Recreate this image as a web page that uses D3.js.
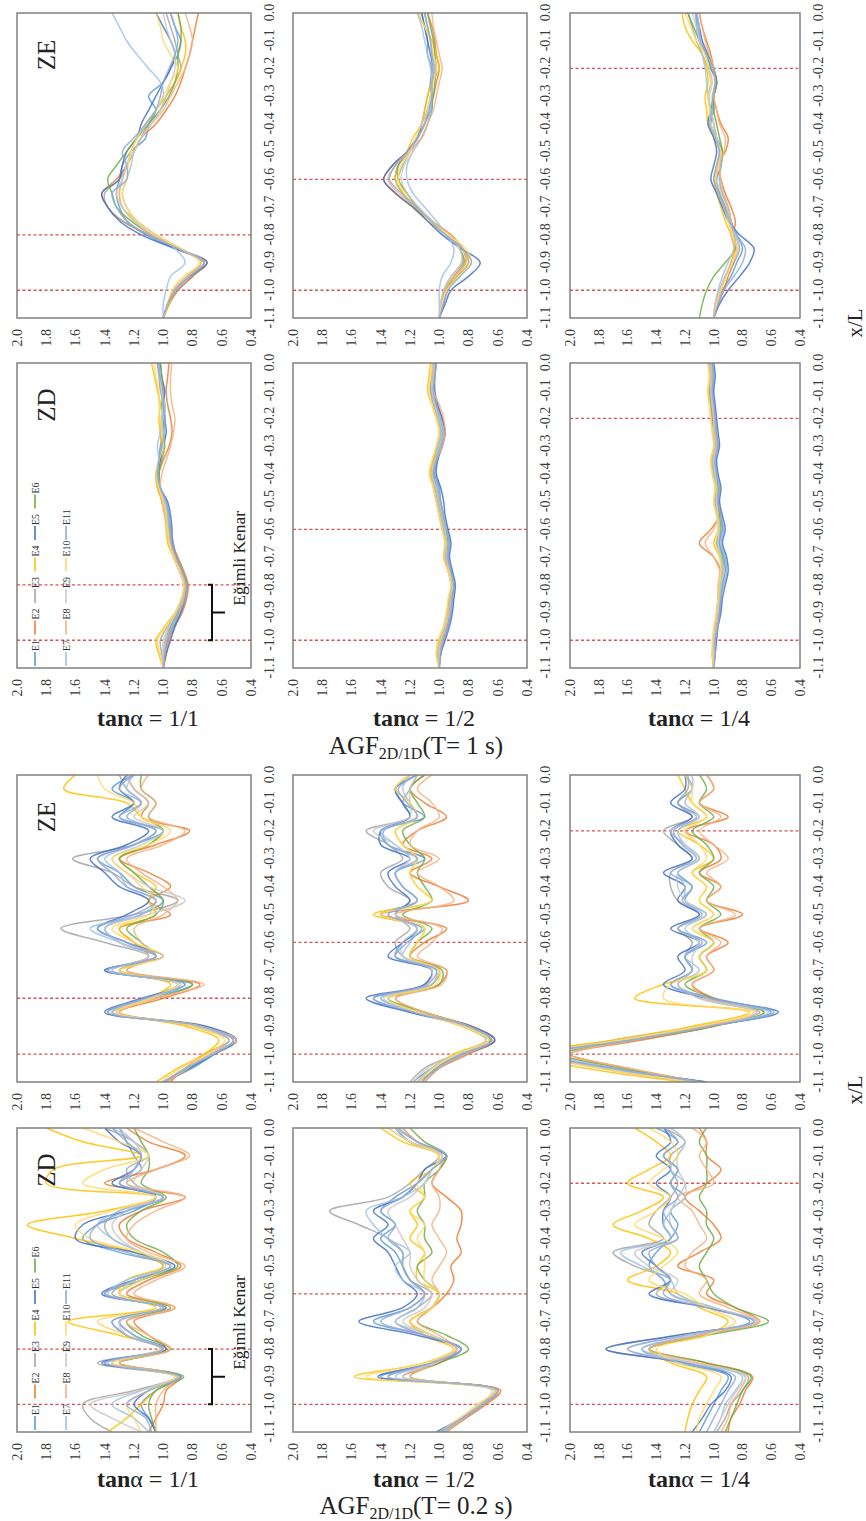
<!DOCTYPE html>
<html><head><meta charset="utf-8">
<script src="https://cdn.jsdelivr.net/npm/d3@7"></script>
<style>body{margin:0;background:#fff}svg text{font-family:"Liberation Serif","Times New Roman",serif}</style>
</head><body>
<script>
// ---------- data ----------
const seriesNames = ["E1","E2","E3","E4","E5","E6","E7","E8","E9","E10","E11"];
const seriesColors = ["#5B9BD5","#ED7D31","#A5A5A5","#FFC000","#4472C4","#70AD47","#9DC3E6","#F4B183","#C9C9C9","#FFD966","#8FAADC"];
const xPos = [-1.1,-1.05,-1.0,-0.95,-0.9,-0.85,-0.8,-0.75,-0.7,-0.65,-0.6,-0.55,-0.5,-0.45,-0.4,-0.35,-0.3,-0.25,-0.2,-0.15,-0.1,-0.05,0.0];
const xTicks = [-1.1,-1.0,-0.9,-0.8,-0.7,-0.6,-0.5,-0.4,-0.3,-0.2,-0.1,0.0];
const yTicks = [2.0,1.8,1.6,1.4,1.2,1.0,0.8,0.6,0.4];
const slopeLabels = ["1/1","1/2","1/4"];
const slopeEdges = [-0.8,-0.6,-0.2];
const toeEdge = -1.0;
const zoneNames = ["ZD","ZE"];
const periodLabels = ["0.2 s","1 s"];

// T = 0.2 s
const T02_ZD_11 = [
[1.05,1.10,1.15,1.05,0.88,1.40,1.00,1.25,1.35,1.00,1.40,1.15,0.95,1.30,1.55,1.45,1.20,1.05,1.30,1.15,1.20,1.25,1.30],
[1.10,1.05,1.00,0.98,0.88,1.30,0.98,1.10,1.20,0.92,1.25,1.10,0.88,1.05,1.25,1.30,1.15,0.85,1.40,1.05,0.85,1.10,1.25],
[1.35,1.50,1.55,1.20,0.90,1.45,1.02,1.20,1.30,1.00,1.35,1.20,1.00,1.15,1.35,1.40,1.30,1.05,1.20,1.25,1.10,1.20,1.40],
[1.38,1.25,1.15,1.05,0.90,1.35,1.00,1.30,1.65,1.05,1.30,1.25,1.00,1.20,1.60,1.93,1.40,1.05,1.80,1.75,1.15,1.55,1.80],
[1.05,1.10,1.20,1.10,0.88,1.42,0.98,1.20,1.30,0.98,1.42,1.20,0.92,1.20,1.60,1.55,1.25,1.00,1.35,1.20,1.15,1.30,1.40],
[1.05,1.08,1.10,1.05,0.86,1.30,0.95,1.15,1.25,0.95,1.30,1.15,0.90,1.00,1.20,1.25,1.15,0.98,1.15,1.10,1.10,1.15,1.20],
[1.10,1.20,1.35,1.15,0.90,1.38,1.00,1.20,1.30,1.00,1.38,1.25,0.95,1.15,1.35,1.45,1.30,1.00,1.25,1.20,1.15,1.20,1.35],
[1.05,1.05,1.05,1.00,0.90,1.30,0.95,1.10,1.25,0.92,1.20,1.05,0.85,1.10,1.25,1.20,1.05,0.85,1.25,1.05,0.82,1.00,1.20],
[1.15,1.35,1.50,1.15,0.92,1.35,1.00,1.25,1.30,1.02,1.30,1.20,0.98,1.15,1.30,1.35,1.25,1.00,1.20,1.15,1.10,1.20,1.30],
[1.15,1.20,1.25,1.10,0.92,1.35,1.02,1.25,1.45,1.00,1.30,1.15,0.95,1.15,1.50,1.60,1.35,1.05,1.55,1.40,1.10,1.30,1.55],
[1.08,1.12,1.25,1.10,0.88,1.40,1.00,1.25,1.35,1.00,1.40,1.20,0.95,1.25,1.50,1.45,1.25,1.00,1.30,1.20,1.15,1.25,1.35]];
const T02_ZE_11 = [
[1.00,0.80,0.65,0.50,0.72,1.38,1.10,0.80,1.40,1.05,1.30,1.40,1.15,1.00,1.20,1.30,1.45,1.20,1.00,1.30,1.20,1.35,1.20],
[0.95,0.85,0.72,0.55,0.80,1.30,1.00,0.75,1.25,1.10,1.20,1.30,0.95,1.10,0.95,1.10,1.30,1.05,0.82,1.15,1.10,1.20,1.25],
[0.98,0.82,0.65,0.50,0.70,1.35,1.12,0.90,1.35,1.10,1.40,1.70,1.20,0.90,1.20,1.35,1.62,1.20,1.05,1.25,1.15,1.25,1.30],
[1.05,0.90,0.72,0.62,0.85,1.30,1.10,0.95,1.30,1.05,1.20,1.30,1.05,1.10,1.05,1.20,1.30,1.10,1.00,1.15,1.25,1.68,1.60],
[1.00,0.82,0.65,0.50,0.72,1.40,1.15,0.85,1.40,1.00,1.25,1.45,1.25,1.10,1.30,1.40,1.50,1.25,1.10,1.35,1.20,1.30,1.25],
[0.98,0.84,0.66,0.52,0.74,1.35,1.05,0.80,1.30,1.05,1.15,1.25,1.05,1.00,1.10,1.20,1.30,1.10,1.00,1.10,1.05,1.15,1.15],
[1.00,0.85,0.68,0.55,0.78,1.32,1.10,0.88,1.38,1.05,1.30,1.50,1.15,1.05,1.25,1.30,1.40,1.20,1.05,1.25,1.15,1.25,1.20],
[0.98,0.83,0.70,0.50,0.75,1.30,1.05,0.72,1.25,1.05,1.15,1.20,1.00,0.90,1.00,1.15,1.25,1.00,0.85,1.10,1.05,1.15,1.10],
[1.00,0.85,0.66,0.52,0.75,1.35,1.10,0.90,1.35,1.10,1.30,1.40,1.10,0.85,1.10,1.25,1.35,1.15,1.00,1.20,1.10,1.20,1.25],
[1.02,0.88,0.70,0.58,0.80,1.32,1.08,0.90,1.30,1.00,1.20,1.35,1.10,1.05,1.15,1.25,1.35,1.10,0.95,1.15,1.20,1.40,1.45],
[1.00,0.84,0.66,0.52,0.74,1.38,1.12,0.85,1.38,1.05,1.25,1.45,1.20,1.05,1.25,1.35,1.45,1.20,1.05,1.30,1.15,1.30,1.20]];
const T02_ZD_12 = [
[0.98,0.82,0.70,0.60,1.40,1.00,0.85,1.10,1.45,1.20,1.10,1.20,1.25,1.30,1.40,1.30,1.40,1.30,1.15,1.05,0.95,1.15,1.30],
[0.95,0.82,0.68,0.58,1.25,1.00,0.88,1.05,1.20,1.05,0.95,0.90,0.92,0.85,0.88,0.85,0.85,0.95,1.05,1.00,0.95,1.15,1.25],
[1.00,0.85,0.72,0.62,1.35,1.05,0.85,1.10,1.30,1.15,1.05,1.20,1.25,1.25,1.35,1.55,1.75,1.35,1.20,1.10,1.00,1.20,1.35],
[1.00,0.85,0.72,0.60,1.58,1.10,0.90,1.10,1.20,1.05,1.00,1.15,1.15,1.10,1.20,1.15,1.20,1.10,1.20,1.05,1.00,1.25,1.40],
[1.02,0.85,0.70,0.60,1.42,1.05,0.85,1.15,1.55,1.25,1.15,1.25,1.30,1.35,1.45,1.35,1.45,1.25,1.15,1.10,0.95,1.20,1.30],
[1.00,0.84,0.72,0.62,1.20,1.00,0.80,0.95,1.15,1.05,1.00,1.10,1.15,1.05,1.10,1.10,1.15,1.10,1.10,1.00,0.95,1.10,1.20],
[0.98,0.84,0.70,0.62,1.30,1.05,0.88,1.05,1.30,1.15,1.10,1.25,1.30,1.20,1.35,1.45,1.50,1.25,1.10,1.05,0.98,1.20,1.30],
[0.96,0.83,0.70,0.60,1.20,1.02,0.88,1.00,1.15,1.05,1.00,1.05,1.00,0.95,1.00,1.05,1.00,1.00,1.05,1.00,0.98,1.15,1.25],
[1.00,0.86,0.72,0.64,1.25,1.05,0.90,1.05,1.25,1.10,1.05,1.15,1.20,1.20,1.25,1.30,1.35,1.20,1.10,1.05,0.98,1.15,1.30],
[1.00,0.86,0.74,0.62,1.50,1.10,0.90,1.05,1.20,1.05,1.00,1.10,1.10,1.10,1.15,1.10,1.20,1.10,1.15,1.05,1.00,1.20,1.35],
[1.00,0.84,0.70,0.60,1.35,1.05,0.85,1.10,1.40,1.20,1.10,1.20,1.25,1.25,1.35,1.30,1.40,1.25,1.15,1.05,0.95,1.15,1.28]];
const T02_ZE_12 = [
[1.18,1.05,0.85,0.65,0.82,1.20,1.45,1.05,1.00,1.30,1.25,1.10,1.40,1.15,1.25,1.30,1.10,1.35,1.40,1.10,1.25,1.30,1.20],
[1.15,1.00,0.80,0.62,0.78,1.10,1.30,1.00,0.95,1.20,1.10,0.95,1.40,0.80,1.00,1.20,1.05,1.25,1.15,0.95,1.10,1.20,1.10],
[1.20,1.10,0.88,0.68,0.82,1.15,1.40,1.10,1.05,1.25,1.30,1.20,1.30,1.20,1.35,1.40,1.25,1.35,1.50,1.20,1.25,1.20,1.15],
[1.15,1.05,0.90,0.68,0.85,1.15,1.35,1.05,1.00,1.20,1.15,1.10,1.45,1.05,1.15,1.20,1.15,1.25,1.30,1.15,1.20,1.30,1.20],
[1.10,1.00,0.82,0.62,0.78,1.20,1.50,1.10,1.05,1.35,1.25,1.15,1.30,1.20,1.30,1.35,1.20,1.40,1.40,1.20,1.25,1.30,1.15],
[1.12,1.02,0.85,0.65,0.80,1.10,1.35,1.00,0.98,1.20,1.15,1.05,1.25,1.05,1.10,1.15,1.10,1.20,1.25,1.10,1.15,1.20,1.10],
[1.15,1.05,0.86,0.66,0.82,1.15,1.40,1.05,1.02,1.25,1.20,1.15,1.35,1.15,1.25,1.30,1.20,1.30,1.40,1.15,1.20,1.25,1.20],
[1.10,1.00,0.82,0.64,0.80,1.10,1.30,0.98,0.95,1.15,1.05,0.98,1.30,0.90,1.00,1.15,1.00,1.20,1.15,1.00,1.05,1.15,1.05],
[1.18,1.08,0.88,0.68,0.84,1.15,1.38,1.08,1.05,1.25,1.25,1.15,1.30,1.15,1.25,1.30,1.20,1.30,1.45,1.20,1.20,1.20,1.15],
[1.14,1.04,0.88,0.66,0.84,1.15,1.35,1.02,1.00,1.20,1.15,1.10,1.40,1.05,1.15,1.20,1.15,1.25,1.30,1.15,1.20,1.30,1.20],
[1.12,1.02,0.84,0.64,0.80,1.18,1.45,1.08,1.02,1.30,1.22,1.12,1.35,1.15,1.25,1.30,1.15,1.35,1.38,1.15,1.22,1.28,1.15]];
const T02_ZD_14 = [
[1.10,1.05,1.00,0.95,0.90,1.25,1.50,1.10,0.75,1.00,1.30,1.35,1.45,1.40,1.30,1.25,1.30,1.20,1.30,1.25,1.35,1.25,1.40],
[0.90,0.88,0.82,0.78,0.73,1.05,1.45,1.10,0.68,0.85,1.05,1.00,1.25,1.10,0.95,1.00,1.10,1.20,1.05,0.95,1.05,1.05,1.10],
[0.98,0.92,0.88,0.80,0.76,1.15,1.75,1.25,0.72,1.05,1.40,1.30,1.55,1.70,1.35,1.45,1.40,1.30,1.25,1.30,1.30,1.20,1.35],
[1.20,1.18,1.15,1.10,1.05,1.30,1.45,1.05,0.90,1.10,1.25,1.60,1.40,1.30,1.45,1.70,1.50,1.35,1.60,1.45,1.30,1.40,1.55],
[1.15,1.08,1.02,0.92,0.88,1.20,1.75,1.25,0.70,1.05,1.45,1.30,1.40,1.50,1.30,1.35,1.35,1.30,1.40,1.30,1.40,1.30,1.35],
[0.92,0.88,0.84,0.80,0.74,1.05,1.45,1.05,0.62,0.85,1.00,1.05,1.10,1.05,1.00,1.05,1.05,1.10,1.05,1.05,1.05,1.10,1.05],
[1.00,0.95,0.92,0.85,0.80,1.15,1.50,1.15,0.70,1.00,1.25,1.30,1.50,1.65,1.30,1.35,1.30,1.25,1.20,1.30,1.25,1.20,1.30],
[0.95,0.90,0.88,0.82,0.78,1.10,1.45,1.10,0.68,0.90,1.10,1.05,1.20,1.15,1.05,1.10,1.15,1.25,1.00,1.05,1.10,1.05,1.15],
[1.00,0.95,0.90,0.84,0.78,1.15,1.60,1.20,0.70,1.00,1.30,1.25,1.45,1.55,1.25,1.30,1.30,1.20,1.20,1.25,1.25,1.20,1.30],
[1.12,1.10,1.05,1.00,0.95,1.25,1.40,1.05,0.85,1.05,1.20,1.45,1.35,1.25,1.35,1.55,1.40,1.30,1.45,1.35,1.25,1.30,1.45],
[1.05,1.00,0.95,0.90,0.85,1.20,1.60,1.20,0.72,1.05,1.35,1.30,1.40,1.45,1.25,1.30,1.35,1.25,1.30,1.25,1.35,1.25,1.35]];
const T02_ZE_14 = [
[1.05,1.75,2.20,1.55,1.00,0.60,1.00,1.30,1.15,1.20,1.05,1.25,1.05,1.20,1.15,1.25,1.10,1.20,1.30,1.10,1.25,1.15,1.20],
[1.10,1.60,2.00,1.50,1.00,0.65,1.00,1.15,1.00,1.05,0.90,1.10,0.80,1.05,0.95,1.10,0.95,1.00,1.20,0.90,1.10,1.00,1.05],
[1.15,1.80,2.20,1.70,1.10,0.68,1.10,1.25,1.15,1.20,1.15,1.25,1.10,1.25,1.30,1.30,1.15,1.25,1.35,1.15,1.25,1.15,1.20],
[1.20,1.90,2.30,1.70,1.15,0.75,1.55,1.35,1.05,1.10,1.00,1.15,1.00,1.10,1.05,1.15,1.00,1.10,1.25,1.05,1.15,1.20,1.25],
[1.05,1.70,2.20,1.60,1.05,0.55,1.05,1.35,1.20,1.25,1.10,1.30,1.10,1.25,1.20,1.35,1.15,1.25,1.30,1.15,1.30,1.20,1.20],
[1.10,1.65,2.05,1.55,1.00,0.65,1.00,1.20,1.05,1.10,1.00,1.10,0.95,1.05,1.00,1.10,1.00,1.05,1.15,1.00,1.10,1.05,1.10],
[1.10,1.70,2.10,1.60,1.05,0.62,1.05,1.25,1.10,1.20,1.10,1.20,1.05,1.20,1.20,1.25,1.10,1.20,1.25,1.10,1.20,1.15,1.15],
[1.10,1.60,2.00,1.55,1.05,0.70,1.05,1.15,1.00,1.05,0.95,1.10,0.85,1.05,0.95,1.05,0.90,1.00,1.10,0.95,1.10,1.00,1.05],
[1.15,1.75,2.15,1.65,1.10,0.70,1.10,1.25,1.15,1.15,1.10,1.25,1.05,1.20,1.25,1.25,1.10,1.20,1.30,1.10,1.20,1.15,1.15],
[1.15,1.80,2.20,1.65,1.10,0.72,1.35,1.30,1.05,1.10,1.00,1.15,1.00,1.10,1.05,1.15,1.05,1.10,1.20,1.05,1.15,1.15,1.20],
[1.08,1.72,2.15,1.58,1.02,0.58,1.02,1.30,1.15,1.20,1.08,1.25,1.08,1.22,1.15,1.30,1.12,1.22,1.28,1.12,1.25,1.18,1.18]];

// T = 1 s
const T1_ZD_11 = [
[1.00,0.99,0.97,0.93,0.88,0.85,0.84,0.87,0.91,0.93,0.95,0.96,0.98,1.02,1.04,1.03,1.02,1.00,0.99,0.99,1.00,1.02,1.04],
[1.00,0.98,0.96,0.92,0.87,0.84,0.83,0.86,0.90,0.94,0.96,0.98,1.00,1.03,1.03,1.00,0.96,0.94,0.95,0.97,0.98,0.97,0.96],
[1.00,1.01,1.02,0.97,0.91,0.87,0.85,0.89,0.93,0.96,0.97,0.98,1.00,1.04,1.05,1.03,1.01,1.02,1.01,1.00,1.02,1.03,1.04],
[1.00,1.03,1.05,0.99,0.92,0.87,0.86,0.89,0.93,0.97,0.98,0.99,1.01,1.04,1.05,1.02,1.01,1.02,1.03,1.02,1.04,1.06,1.08],
[1.00,0.98,0.95,0.92,0.88,0.85,0.84,0.87,0.91,0.94,0.94,0.95,0.97,1.02,1.03,1.02,1.00,0.98,0.99,1.00,0.99,1.01,1.02],
[1.00,0.99,0.98,0.95,0.90,0.86,0.84,0.87,0.91,0.95,0.96,0.97,0.99,1.02,1.03,1.01,0.99,1.00,1.00,1.01,1.00,1.01,1.02],
[1.00,1.00,0.99,0.96,0.91,0.87,0.86,0.89,0.92,0.95,0.96,0.97,0.99,1.02,1.04,1.03,1.04,1.02,1.00,0.99,1.01,1.02,1.03],
[1.00,0.99,0.98,0.94,0.89,0.86,0.85,0.88,0.92,0.95,0.97,0.99,1.01,1.02,1.01,0.98,0.95,0.93,0.92,0.94,0.95,0.95,0.94],
[1.00,1.00,1.00,0.96,0.91,0.87,0.86,0.89,0.93,0.96,0.97,0.98,0.99,1.03,1.04,1.03,1.00,1.00,1.01,1.00,1.01,1.02,1.03],
[1.00,1.02,1.04,0.98,0.92,0.88,0.86,0.89,0.93,0.96,0.97,0.98,1.00,1.03,1.05,1.03,1.00,1.01,1.02,1.03,1.03,1.05,1.06],
[1.00,0.99,0.97,0.94,0.89,0.85,0.84,0.87,0.91,0.94,0.95,0.96,0.98,1.02,1.04,1.03,1.01,0.99,0.99,1.00,1.00,1.02,1.03]];
const T1_ZE_11 = [
[1.00,0.96,0.90,0.80,0.72,0.92,1.12,1.25,1.30,1.32,1.30,1.28,1.22,1.12,1.10,1.05,1.10,1.00,0.95,0.90,0.88,0.92,0.95],
[1.00,0.96,0.90,0.80,0.70,0.90,1.10,1.28,1.38,1.42,1.32,1.25,1.20,1.15,1.05,0.98,0.92,0.88,0.85,0.82,0.80,0.78,0.76],
[1.00,0.97,0.92,0.82,0.72,0.90,1.10,1.28,1.38,1.40,1.30,1.25,1.20,1.15,1.10,1.02,0.98,0.92,0.88,0.90,0.92,0.95,0.98],
[1.00,0.96,0.92,0.84,0.74,0.88,1.05,1.18,1.28,1.30,1.28,1.25,1.22,1.18,1.12,1.05,0.98,0.92,0.88,0.85,0.85,0.88,0.90],
[1.00,0.97,0.92,0.82,0.70,0.92,1.15,1.30,1.38,1.42,1.30,1.28,1.25,1.18,1.15,1.10,1.05,1.00,0.95,0.92,0.95,1.00,1.05],
[1.00,0.97,0.93,0.83,0.72,0.90,1.08,1.22,1.32,1.35,1.38,1.32,1.25,1.18,1.10,1.02,0.96,0.92,0.90,0.90,0.88,0.88,0.90],
[1.00,1.00,0.98,0.95,0.85,0.92,1.05,1.18,1.25,1.28,1.25,1.22,1.20,1.15,1.12,1.05,1.00,1.02,1.10,1.18,1.25,1.30,1.35],
[1.00,0.97,0.93,0.84,0.74,0.90,1.08,1.20,1.28,1.30,1.28,1.25,1.20,1.15,1.08,1.00,0.95,0.90,0.85,0.82,0.80,0.82,0.85],
[1.00,0.97,0.92,0.83,0.72,0.88,1.05,1.20,1.28,1.32,1.28,1.25,1.20,1.15,1.08,1.02,0.98,0.95,0.92,0.92,0.95,0.98,1.00],
[1.00,0.97,0.94,0.86,0.75,0.88,1.05,1.18,1.25,1.28,1.25,1.24,1.22,1.18,1.12,1.05,1.00,0.95,0.90,0.95,1.00,1.02,1.05],
[1.00,0.97,0.92,0.82,0.72,0.90,1.10,1.25,1.32,1.35,1.25,1.25,1.28,1.20,1.12,1.05,1.02,1.00,0.96,0.92,0.90,0.92,0.95]];
const T1_ZD_12 = [
[1.00,1.00,0.97,0.94,0.92,0.91,0.90,0.92,0.94,0.93,0.95,0.97,0.99,1.00,1.03,1.02,1.00,0.98,1.00,1.02,1.04,1.04,1.03],
[1.00,0.99,0.97,0.95,0.93,0.92,0.91,0.93,0.96,0.95,0.97,0.99,1.01,1.03,1.04,1.02,0.98,0.96,0.98,1.02,1.06,1.05,1.04],
[1.00,1.01,0.99,0.96,0.94,0.93,0.91,0.92,0.95,0.95,0.97,0.98,1.00,1.02,1.06,1.04,1.01,0.99,1.01,1.04,1.06,1.05,1.04],
[1.00,1.02,1.00,0.97,0.95,0.93,0.92,0.94,0.97,0.96,0.98,1.00,1.02,1.04,1.06,1.04,1.02,1.00,1.02,1.05,1.08,1.07,1.06],
[1.00,0.99,0.96,0.93,0.91,0.90,0.89,0.91,0.93,0.92,0.94,0.96,0.97,0.99,1.02,1.01,0.98,0.96,0.98,1.01,1.03,1.03,1.02],
[1.00,1.00,0.98,0.95,0.93,0.92,0.90,0.92,0.95,0.94,0.96,0.98,1.00,1.02,1.04,1.03,1.00,0.98,1.00,1.03,1.05,1.04,1.03],
[1.00,1.01,0.99,0.96,0.94,0.93,0.91,0.93,0.96,0.95,0.97,0.99,1.01,1.03,1.05,1.03,1.01,0.99,1.01,1.03,1.05,1.04,1.03],
[1.00,1.00,0.98,0.95,0.94,0.93,0.92,0.94,0.97,0.96,0.98,1.00,1.02,1.04,1.05,1.02,0.98,0.96,0.97,1.00,1.04,1.04,1.03],
[1.00,1.00,0.99,0.96,0.93,0.92,0.91,0.93,0.95,0.95,0.96,0.98,1.00,1.02,1.05,1.03,1.00,0.98,1.00,1.03,1.05,1.05,1.04],
[1.00,1.02,1.01,0.97,0.95,0.94,0.92,0.94,0.97,0.96,0.98,1.00,1.02,1.04,1.07,1.05,1.02,1.00,1.02,1.05,1.07,1.06,1.05],
[1.00,0.99,0.97,0.94,0.92,0.91,0.90,0.92,0.94,0.93,0.95,0.97,0.99,1.01,1.04,1.02,0.99,0.97,0.99,1.02,1.04,1.03,1.02]];
const T1_ZE_12 = [
[1.00,0.97,0.95,0.88,0.80,0.84,0.95,1.05,1.15,1.25,1.30,1.28,1.20,1.12,1.08,1.05,1.05,1.06,1.05,1.08,1.08,1.10,1.12],
[1.00,0.98,0.96,0.90,0.82,0.84,0.92,1.05,1.18,1.30,1.38,1.32,1.22,1.15,1.10,1.08,1.04,1.02,1.00,1.02,1.03,1.05,1.08],
[1.00,0.99,0.97,0.92,0.84,0.86,0.95,1.05,1.15,1.22,1.28,1.25,1.20,1.15,1.12,1.10,1.08,1.06,1.05,1.05,1.06,1.08,1.10],
[1.00,0.98,0.95,0.88,0.80,0.84,0.95,1.08,1.18,1.25,1.30,1.28,1.22,1.18,1.12,1.10,1.08,1.05,1.00,1.02,1.05,1.10,1.15],
[1.00,0.96,0.92,0.80,0.72,0.85,0.98,1.08,1.18,1.30,1.38,1.32,1.22,1.15,1.12,1.08,1.06,1.05,1.04,1.06,1.08,1.10,1.12],
[1.00,0.98,0.96,0.90,0.83,0.86,0.95,1.05,1.15,1.22,1.28,1.28,1.22,1.15,1.10,1.06,1.04,1.03,1.02,1.03,1.04,1.06,1.08],
[1.00,1.00,1.00,0.98,0.92,0.90,0.95,1.02,1.10,1.18,1.22,1.22,1.18,1.12,1.08,1.06,1.05,1.05,1.06,1.08,1.10,1.12,1.15],
[1.00,0.98,0.96,0.90,0.82,0.84,0.94,1.05,1.16,1.28,1.35,1.30,1.20,1.12,1.08,1.04,1.02,1.00,0.98,1.00,1.02,1.04,1.05],
[1.00,0.99,0.97,0.92,0.85,0.86,0.95,1.05,1.14,1.22,1.26,1.24,1.18,1.14,1.10,1.08,1.06,1.05,1.04,1.05,1.06,1.08,1.10],
[1.00,0.98,0.95,0.86,0.78,0.82,0.94,1.06,1.16,1.24,1.28,1.26,1.20,1.16,1.12,1.08,1.06,1.04,1.02,1.04,1.06,1.10,1.14],
[1.00,0.97,0.94,0.86,0.78,0.84,0.96,1.06,1.16,1.26,1.34,1.30,1.22,1.15,1.10,1.07,1.05,1.05,1.03,1.05,1.06,1.08,1.10]];
const T1_ZD_14 = [
[1.00,1.00,0.99,0.98,0.96,0.95,0.94,0.92,0.93,0.96,0.94,0.95,0.97,0.96,0.98,0.99,0.97,0.98,0.99,1.00,1.01,1.00,1.01],
[1.00,1.00,0.99,0.98,0.97,0.96,0.96,0.95,1.00,1.10,1.02,0.96,0.98,0.98,1.00,1.01,0.99,1.00,1.01,1.02,1.03,1.02,1.03],
[1.00,1.01,1.00,0.99,0.98,0.97,0.96,0.94,0.95,0.98,0.96,0.97,0.99,0.98,1.00,1.01,0.99,1.00,1.01,1.02,1.03,1.02,1.03],
[1.00,1.01,1.00,0.99,0.98,0.97,0.96,0.94,0.96,1.00,0.97,0.98,1.00,0.99,1.01,1.02,1.00,1.01,1.02,1.03,1.04,1.03,1.04],
[1.00,0.99,0.98,0.97,0.95,0.94,0.92,0.90,0.91,0.94,0.92,0.94,0.96,0.95,0.97,0.98,0.96,0.97,0.98,0.99,1.00,0.99,1.00],
[1.00,1.00,0.99,0.98,0.97,0.96,0.95,0.93,0.94,0.97,0.95,0.96,0.98,0.97,0.99,1.00,0.98,0.99,1.00,1.01,1.02,1.01,1.02],
[1.00,1.00,1.00,0.99,0.98,0.97,0.96,0.94,0.95,0.97,0.96,0.97,0.99,0.98,1.00,1.01,0.99,1.00,1.00,1.01,1.02,1.02,1.03],
[1.00,1.00,0.99,0.98,0.97,0.97,0.97,0.96,1.00,1.06,1.00,0.97,0.98,0.98,0.99,1.00,0.98,0.99,1.00,1.01,1.02,1.01,1.02],
[1.00,1.00,1.00,0.99,0.97,0.96,0.95,0.93,0.95,0.97,0.96,0.97,0.98,0.98,0.99,1.00,0.99,1.00,1.00,1.01,1.02,1.02,1.02],
[1.00,1.01,1.01,1.00,0.98,0.97,0.96,0.95,0.96,0.99,0.97,0.98,1.00,0.99,1.01,1.02,1.00,1.01,1.02,1.03,1.04,1.03,1.04],
[1.00,0.99,0.99,0.97,0.96,0.95,0.93,0.91,0.92,0.95,0.93,0.95,0.97,0.96,0.98,0.99,0.97,0.98,0.99,1.00,1.01,1.00,1.01]];
const T1_ZE_14 = [
[1.00,0.98,0.94,0.88,0.84,0.80,0.84,0.88,0.92,0.96,0.98,0.95,0.94,0.98,1.02,1.00,1.00,0.98,1.02,1.05,1.10,1.12,1.12],
[1.00,0.97,0.93,0.90,0.86,0.84,0.86,0.85,0.88,0.92,0.95,0.98,0.92,0.90,0.95,0.98,1.00,0.98,1.00,1.02,1.05,1.08,1.10],
[1.00,0.99,0.96,0.92,0.86,0.82,0.85,0.90,0.92,0.96,0.99,0.98,0.96,0.98,1.00,1.02,1.04,1.02,1.04,1.08,1.12,1.15,1.18],
[1.00,0.98,0.95,0.92,0.88,0.85,0.88,0.92,0.95,0.98,1.00,0.98,0.96,1.00,1.04,1.05,1.06,1.04,1.05,1.08,1.15,1.20,1.22],
[1.00,0.96,0.90,0.82,0.75,0.72,0.82,0.90,0.94,0.98,1.02,1.00,0.98,1.00,1.04,1.02,1.00,0.98,1.00,1.04,1.08,1.10,1.12],
[1.10,1.08,1.05,1.00,0.92,0.85,0.86,0.88,0.90,0.94,0.96,0.95,0.94,0.96,0.98,1.00,1.00,0.98,1.02,1.05,1.10,1.14,1.18],
[1.00,0.99,0.97,0.94,0.90,0.86,0.86,0.88,0.90,0.94,0.96,0.95,0.96,0.98,1.00,1.02,1.04,1.05,1.06,1.08,1.10,1.10,1.12],
[1.00,0.98,0.95,0.92,0.88,0.86,0.88,0.88,0.90,0.93,0.95,0.96,0.93,0.92,0.96,0.98,1.00,0.99,1.00,1.03,1.06,1.08,1.10],
[1.00,0.99,0.96,0.92,0.87,0.83,0.85,0.89,0.91,0.95,0.98,0.97,0.96,0.98,1.00,1.02,1.03,1.01,1.03,1.06,1.10,1.12,1.15],
[1.00,0.98,0.95,0.91,0.87,0.84,0.87,0.90,0.93,0.97,0.99,0.97,0.95,0.99,1.02,1.03,1.04,1.02,1.04,1.06,1.12,1.16,1.20],
[1.00,0.97,0.93,0.86,0.80,0.78,0.84,0.89,0.93,0.97,1.00,0.98,0.96,0.99,1.03,1.01,1.01,0.99,1.01,1.05,1.09,1.11,1.13]];

// ---------- layout (original landscape frame, then rotated) ----------
const FW = 1521, FH = 866;
const blocks = [
  { period: periodLabels[0], u: [[89,393],[439,746]], data: [[T02_ZD_11,T02_ZE_11],[T02_ZD_12,T02_ZE_12],[T02_ZD_14,T02_ZE_14]],
    tanY: 1487, titleY: 1514, xl: 431 },
  { period: periodLabels[1], u: [[853,1158],[1203,1508]], data: [[T1_ZD_11,T1_ZE_11],[T1_ZD_12,T1_ZE_12],[T1_ZD_14,T1_ZE_14]],
    tanY: 726, titleY: 754, xl: 1198 }
];
const rowsV = [[17,251],[293,527],[570,800]];

const svg = d3.select("body").append("svg").attr("width", 866).attr("height", 1521);
svg.append("rect").attr("width", 866).attr("height", 1521).attr("fill", "#fff");
const defs = svg.append("defs");
const g = svg.append("g").attr("transform", `translate(0,${FW}) rotate(-90)`);

let clipId = 0;
blocks.forEach((blk, bi) => {
  rowsV.forEach((vr, ri) => {
    blk.u.forEach((ur, ci) => {
      const x = d3.scaleLinear().domain([-1.1, 0]).range(ur);
      const y = d3.scaleLinear().domain([0.4, 2.0]).range([vr[1], vr[0]]);
      const p = g.append("g");
      const id = "clip" + (clipId++);
      defs.append("clipPath").attr("id", id).append("rect")
        .attr("x", ur[0]).attr("y", vr[0]).attr("width", ur[1] - ur[0]).attr("height", vr[1] - vr[0]);

      // axes
      const ax = p.append("g").attr("transform", `translate(0,${vr[1]})`)
        .call(d3.axisBottom(x).tickValues(xTicks).tickSize(0).tickPadding(13).tickFormat(d => d.toFixed(1)));
      ax.select(".domain").remove();
      ax.selectAll("text").attr("font-size", 14).attr("fill", "#3a3a3a").attr("font-family", "Liberation Serif");
      const ay = p.append("g").attr("transform", `translate(${ur[0]},0)`)
        .call(d3.axisLeft(y).tickValues(yTicks).tickSize(0).tickPadding(11).tickFormat(d => d.toFixed(1)));
      ay.select(".domain").remove();
      ay.selectAll("text").attr("font-size", 14).attr("fill", "#3a3a3a").attr("font-family", "Liberation Serif");

      // dashed reference lines
      const plot = p.append("g").attr("clip-path", `url(#${id})`);
      [toeEdge, slopeEdges[ri]].forEach(xv => {
        plot.append("line").attr("x1", x(xv)).attr("x2", x(xv)).attr("y1", vr[0]).attr("y2", vr[1])
          .attr("stroke", "#d9534f").attr("stroke-width", 1.3).attr("stroke-dasharray", "3,2.5");
      });

      // series
      const line = d3.line().x(d => x(d[0])).y(d => y(d[1])).curve(d3.curveCatmullRom.alpha(0.5));
      const panelData = blk.data[ri][ci];
      panelData.forEach((vals, si) => {
        const pts = vals.map((v, i) => [xPos[i], v]).filter(d => d[0] !== undefined);
        plot.append("path").attr("d", line(pts)).attr("fill", "none")
          .attr("stroke", seriesColors[si]).attr("stroke-width", 1.5).attr("stroke-opacity", 0.85);
      });

      // frame
      p.append("rect").attr("x", ur[0]).attr("y", vr[0]).attr("width", ur[1] - ur[0]).attr("height", vr[1] - vr[0])
        .attr("fill", "none").attr("stroke", "#808080").attr("stroke-width", 1.5);

      // zone label (first row only)
      if (ri === 0) {
        p.append("text").attr("x", ur[1] - 42).attr("y", vr[0] + 38).attr("text-anchor", "middle")
          .attr("font-size", 25).attr("fill", "#222").text(zoneNames[ci]);
      }

      // legend + bracket on first row, ZD panel
      if (ri === 0 && ci === 0) {
        seriesNames.forEach((nm, si) => {
          const row = si < 6 ? 0 : 1;
          const col = si < 6 ? si : si - 6;
          const lx = ur[0] + 2 + col * 31.5;
          const ly = vr[0] + (row === 0 ? 18 : 49);
          p.append("line").attr("x1", lx).attr("x2", lx + 14).attr("y1", ly).attr("y2", ly)
            .attr("stroke", seriesColors[si]).attr("stroke-width", 1.6);
          p.append("text").attr("x", lx + 15).attr("y", ly + 3.5).attr("font-size", 10)
            .attr("fill", "#333").text(nm);
        });
        const bv = vr[0] + 195;
        const bx0 = x(toeEdge), bx1 = x(slopeEdges[0]), bxm = x((toeEdge + slopeEdges[0]) / 2);
        p.append("path").attr("d", `M${bx0},${bv - 4}V${bv}H${bx1}V${bv - 4}M${bxm},${bv}V${bv + 13}`)
          .attr("fill", "none").attr("stroke", "#111").attr("stroke-width", 2);
        p.append("text").attr("x", x(-0.875)).attr("y", vr[0] + 228).attr("font-size", 17.5)
          .attr("fill", "#222").text("Eğimli Kenar");
      }
    });
  });
  // x/L label
  g.append("text").attr("x", blk.xl).attr("y", 862).attr("text-anchor", "middle")
    .attr("font-size", 21).attr("fill", "#222").text("x/L");

  // horizontal (display-frame) labels
  rowsV.forEach((vr, ri) => {
    const cx = (vr[0] + vr[1]) / 2 + 14;
    const t = svg.append("text").attr("x", cx).attr("y", blk.tanY).attr("text-anchor", "middle")
      .attr("font-size", 24).attr("fill", "#222");
    t.append("tspan").attr("font-weight", "bold").text("tan");
    t.append("tspan").text("α = " + slopeLabels[ri]);
  });
  const tt = svg.append("text").attr("x", 416).attr("y", blk.titleY).attr("text-anchor", "middle")
    .attr("font-size", 25).attr("fill", "#222");
  tt.append("tspan").text("AGF");
  tt.append("tspan").attr("font-size", 16).attr("dy", 5).text("2D/1D");
  tt.append("tspan").attr("dy", -5).text("(T= " + blk.period + ")");
});
</script>
</body></html>
